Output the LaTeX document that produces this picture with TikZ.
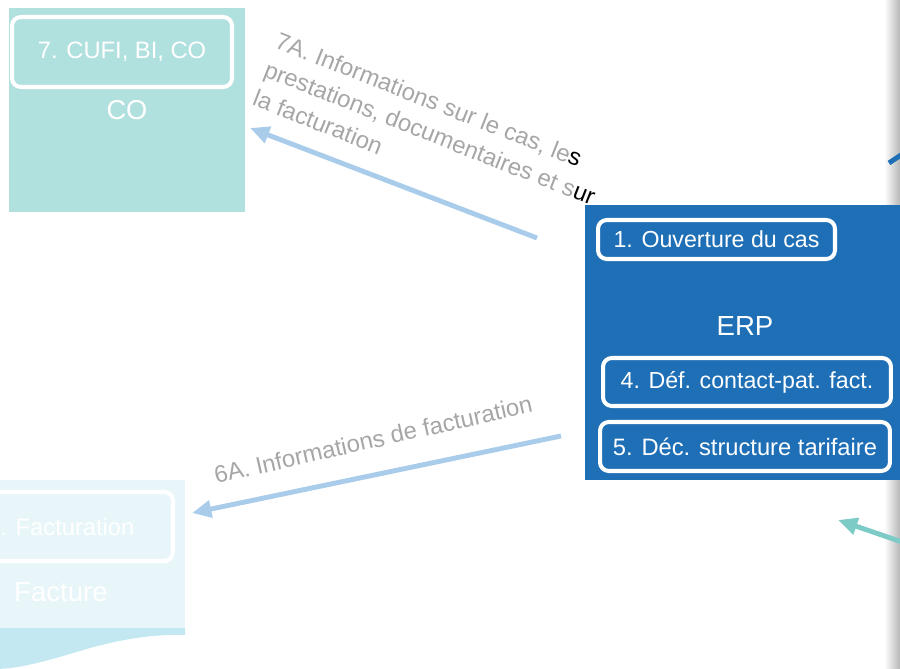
\documentclass[tikz,border=0pt]{standalone}
\usepackage{fontspec}
\setmainfont{Liberation Sans}
\usetikzlibrary{arrows.meta}
\definecolor{erpblue}{HTML}{1E6FB6}
\definecolor{coteal}{HTML}{B1E1DF}
\definecolor{factpale}{HTML}{E8F6FA}
\definecolor{factband}{HTML}{C3E8F1}
\definecolor{flowblue}{HTML}{A9CCEA}
\definecolor{flowteal}{HTML}{7CCBC7}
\definecolor{labelgray}{HTML}{A6A6A6}
\begin{document}
\begin{tikzpicture}[x=0.02cm,y=-0.02cm,
    system/.style={inner sep=0pt,outer sep=0pt},
    task/.style={draw=white,line width=2.3pt,rounded corners=5pt,inner sep=0pt},
    tasktext/.style={text=white,inner sep=0pt,font=\fontsize{#1}{15}\selectfont},
    flow/.style={line width=2.8pt,-{Triangle[length=11pt,width=9.5pt]}},
    flowlabel/.style={text=labelgray,inner sep=0pt,align=left,
      font=\fontsize{13.6}{17.5}\selectfont}]
  \useasboundingbox (0,0) rectangle (900,669);
  \clip (0,0) rectangle (900,669);
  \shade[left color=white,right color=black!28] (884,0) rectangle (900,669);
  \node[system,fill=coteal,minimum width=4.72cm,minimum height=4.08cm] (co) at (127,110) {};
  \node[task,minimum width=4.4cm,minimum height=1.4cm] (cufi) at (122,52) {};
  \node[tasktext=13.5] at (cufi) {7. CUFI, BI, CO};
  \node[tasktext=15.5] (colabel) at (127,110) {CO};
  \node[system,fill=erpblue,minimum width=6.4cm,minimum height=5.5cm,anchor=north west] (erp) at (585,205) {};
  \node[task,minimum width=4.74cm,minimum height=0.78cm] (ouv) at (716.5,239.5) {};
  \node[tasktext=13.2] at (ouv) {1. Ouverture du cas};
  \node[tasktext=15.7] (erplabel) at (745,326) {ERP};
  \node[task,minimum width=5.76cm,minimum height=0.96cm] (defc) at (747,382) {};
  \node[tasktext=13.2] at (defc) {4. Déf. contact-pat. fact.};
  \node[task,minimum width=5.8cm,minimum height=0.98cm] (decs) at (745,446.5) {};
  \node[tasktext=13.5] at (decs) {5. Déc. structure tarifaire};
  \fill[factpale] (-5,480) rectangle (185,628);
  \fill[factband] (-5,628) -- (185,628) -- (185,635)
    .. controls (150,634) and (120,640) .. (90,648)
    .. controls (50,660) and (20,669) .. (-5,669) -- cycle;
  \node[task,minimum width=3.86cm,minimum height=1.38cm] (fact) at (76.5,526.5) {};
  \node[tasktext=13.5,anchor=west] at (0,527) {. Facturation};
  \node[tasktext=15.7] (facture) at (61,592) {Facture};
  \coordinate (f7a) at (537,238);
  \coordinate (t7a) at (250,128);
  \coordinate (f6a) at (561,436);
  \coordinate (t6a) at (192,513);
  \coordinate (fin) at (905,543);
  \coordinate (tin) at (838,520);
  \coordinate (fout) at (889,163);
  \coordinate (tout) at (904,153);
  \draw[flow,flowblue] (f7a) -- (t7a);
  \draw[flow,flowblue] (f6a) -- (t6a);
  \draw[flow,flowteal] (fin) -- (tin);
  \draw[line width=2.8pt,erpblue] (fout) -- (tout);
  \node[flowlabel,rotate=-21.5,anchor=north west] (l7a) at (280,31)
    {7A. Informations sur le cas, le{\color{black}s}\\
     prestations, documentaires et s{\color{black}ur}\\
     la facturation};
  \node[flowlabel,rotate=12.8,anchor=base west] (l6a) at (216,484)
    {6A. Informations de facturation};
\end{tikzpicture}
\end{document}
